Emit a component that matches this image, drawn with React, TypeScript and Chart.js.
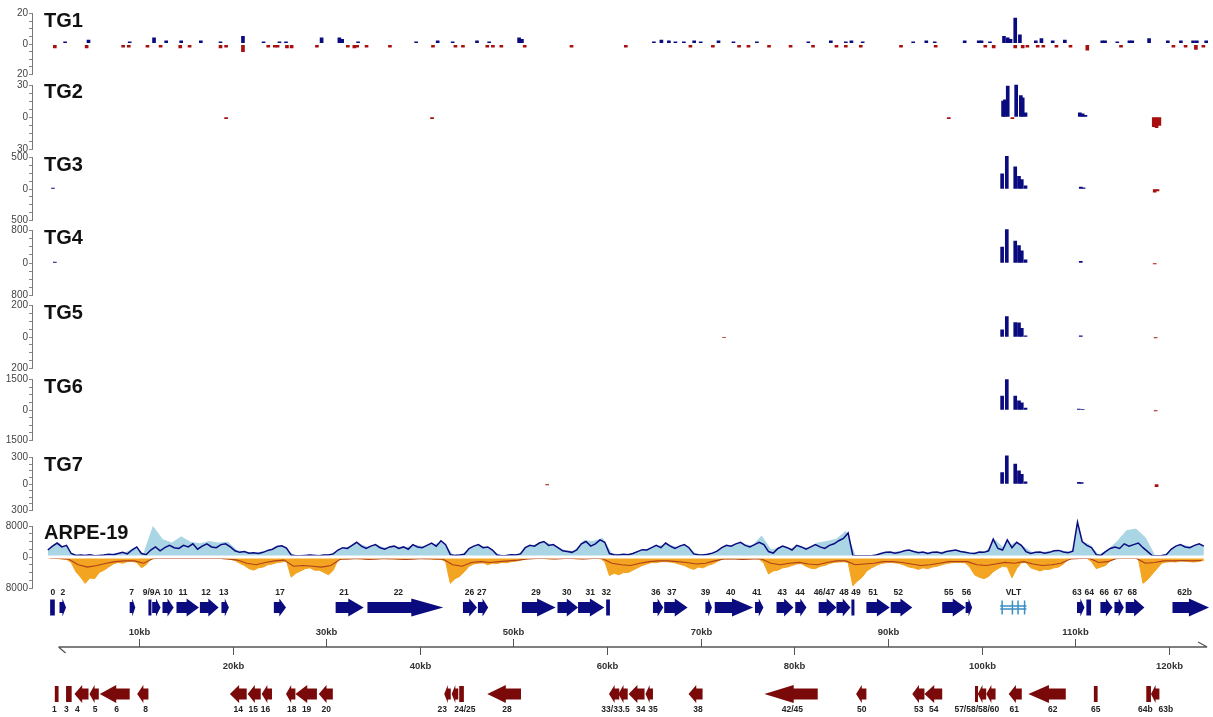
import React, { useEffect, useRef } from 'react';
import { Chart, registerables } from 'chart.js';

Chart.register(...registerables);

const FONT = '"Liberation Sans", Arial, Helvetica, sans-serif';

// ---------- tracks ----------
const trackNames = ['TG1', 'TG2', 'TG3', 'TG4', 'TG5', 'TG6', 'TG7', 'ARPE-19'];
const trackMax = [20, 30, 500, 800, 200, 1500, 300, 8000];

// [kb, value]
const tg1Plus: [number, number][] = [
  [2.1, 1.5], [4.6, 2.5], [9.0, 1.5], [11.6, 4], [12.9, 2], [14.5, 2], [16.6, 2], [18.7, 1.5], [21.1, 5],
  [23.3, 1.5], [25.0, 1.5], [25.7, 1.5], [29.5, 4], [31.4, 4], [31.7, 3], [33.4, 1.5], [39.6, 1.5], [41.9, 2],
  [43.5, 1.5], [46.1, 2], [47.4, 1.5], [50.6, 4], [50.9, 3], [65.0, 1.5], [65.8, 2.5], [66.6, 2], [67.3, 1.5],
  [68.2, 1.5], [69.3, 2], [70.0, 1.5], [71.9, 2], [73.5, 1.5], [76.0, 1.5], [81.5, 1.5], [83.9, 2], [85.5, 1.5],
  [86.1, 2], [87.3, 1.5], [92.7, 1.5], [94.1, 2], [95.0, 1.5], [98.2, 2], [99.7, 2], [100.0, 2], [100.9, 1.5],
  [102.4, 5], [102.8, 4], [103.1, 3], [103.6, 17], [104.1, 6], [105.8, 2], [106.4, 3.5], [107.6, 2], [108.9, 2.5],
  [112.9, 2], [113.2, 2], [114.5, 1.5], [115.8, 2], [116.1, 2], [117.9, 3.5], [119.9, 2], [121.3, 2], [122.6, 2],
  [123.0, 2], [124.0, 2],
];
const tg1Minus: [number, number][] = [
  [1.0, 2.5], [4.4, 2.5], [8.3, 2], [8.9, 2], [10.9, 2], [12.3, 2], [14.4, 2.5], [15.4, 2], [18.7, 2.5], [19.3, 2],
  [21.1, 5], [23.8, 2], [24.5, 2], [24.8, 2], [25.8, 2.5], [26.3, 2.5], [29.0, 2], [32.3, 2], [33.0, 2.5], [33.3, 2],
  [34.3, 2], [36.8, 2], [41.4, 2], [43.8, 2], [44.6, 2], [47.2, 2], [47.8, 2], [48.7, 2], [51.2, 2], [56.2, 2],
  [62.0, 2], [68.9, 2], [71.3, 2], [74.1, 2], [75.1, 2], [77.3, 2], [79.6, 2], [82.0, 2], [84.5, 2], [85.5, 2],
  [87.1, 2], [91.4, 2], [95.1, 2], [100.4, 2], [101.3, 2.5], [103.6, 2.5], [104.4, 2.5], [104.9, 2], [106.0, 2],
  [106.6, 2], [108.0, 2], [109.5, 2], [111.3, 4], [114.9, 2], [120.5, 2], [121.8, 2], [122.9, 3.5], [123.7, 2],
];
const tg2Plus: [number, number][] = [[102.3, 15], [102.5, 16], [102.8, 29], [103.7, 30], [104.2, 20], [104.4, 18], [104.7, 4], [110.5, 4], [110.8, 3], [111.1, 1.5]];
const tg2Minus: [number, number][] = [[19.3, 1.5], [41.3, 1.5], [96.5, 1.5], [103.3, 1.5], [118.4, 9], [118.7, 10], [119.0, 8]];
const tg3Plus: [number, number][] = [[0.8, 15], [102.2, 240], [102.7, 520], [103.6, 350], [104.0, 200], [104.3, 150], [104.7, 50], [110.6, 30], [110.9, 20]];
const tg3Minus: [number, number][] = [[118.5, 50], [118.8, 30]];
const tg4Plus: [number, number][] = [[1.0, 20], [102.2, 390], [102.7, 820], [103.6, 540], [104.0, 430], [104.3, 300], [104.7, 80], [110.6, 40]];
const tg4Minus: [number, number][] = [[118.5, 25]];
const tg5Plus: [number, number][] = [[102.2, 45], [102.7, 130], [103.6, 92], [104.0, 90], [104.3, 55], [104.7, 8], [110.6, 8]];
const tg5Minus: [number, number][] = [[72.5, 4], [118.6, 6]];
const tg6Plus: [number, number][] = [[102.2, 680], [102.7, 1500], [103.6, 690], [104.0, 450], [104.3, 350], [104.7, 90], [110.4, 40], [110.8, 35]];
const tg6Minus: [number, number][] = [[118.6, 50]];
const tg7Plus: [number, number][] = [[102.2, 130], [102.7, 320], [103.6, 225], [104.0, 150], [104.3, 110], [104.7, 25], [110.4, 20], [110.7, 15]];
const tg7Minus: [number, number][] = [[53.6, 10], [118.7, 30]];

// ARPE-19 plus strand, 0.5-kb bins (bin j centred on 0.5*j + 0.25 kb)
const arpeNavy = [
  1800, 2800, 3600, 2600, 3000, 900, 400, 500, 400, 600, 300, 400, 500, 700, 600, 900, 1200, 800, 1800, 2600,
  900, 600, 1800, 2600, 1600, 2400, 3000, 2400, 2200, 3000, 2600, 3400, 2000, 2800, 3400, 2600, 2400, 3200, 3400, 2600,
  1600, 1200, 1400, 1000, 1100, 900, 1200, 1700, 2000, 2700, 2900, 2300, 500, 300, 300, 400, 500, 400, 300, 500,
  500, 800, 1800, 2400, 2200, 3000, 3800, 2800, 2200, 2800, 3200, 2400, 2000, 2600, 2800, 2200, 2600, 2000, 3200, 2600,
  2400, 3000, 3600, 2800, 4200, 3200, 600, 400, 500, 700, 2200, 2800, 3200, 2400, 2600, 1800, 500, 300, 400, 600,
  500, 800, 2400, 3000, 2800, 3600, 4000, 3000, 3200, 2400, 1600, 1400, 1200, 1800, 3400, 4000, 2800, 3400, 4400, 3800,
  900, 600, 500, 700, 600, 900, 1400, 1900, 1800, 2400, 3000, 2400, 3600, 2800, 2200, 2800, 3200, 2400, 800, 600,
  500, 700, 1000, 1500, 2400, 3000, 2800, 3400, 3800, 3000, 2600, 3200, 3800, 3200, 1400, 1000, 2200, 2800, 2400, 1800,
  3000, 2600, 2000, 2600, 3200, 2600, 2200, 3000, 3400, 4200, 4800, 6200, 400, 300, 300, 300, 300, 500, 900, 1200,
  1300, 1000, 1200, 1600, 1800, 1400, 1100, 1300, 900, 1200, 1300, 1000, 1400, 1600, 1800, 1400, 1200, 1000, 900, 1300,
  1200, 1600, 4600, 2200, 1800, 4400, 2400, 3800, 3000, 1400, 900, 1200, 1300, 1000, 1200, 1600, 1700, 1300, 1100, 1500,
  9000, 4000, 3000, 2400, 600, 400, 1400, 2200, 2600, 2200, 3400, 2800, 3200, 3600, 2400, 1400, 300, 300, 400, 600,
  2000, 2800, 3200, 2600, 2400, 3000, 3400, 2800,
];
// light-blue envelope, 1-kb bins (bin i centred on i + 0.5 kb)
const arpeLight = [
  2200, 3400, 1200, 400, 500, 300, 600, 800, 1000, 2400, 800, 7800, 4500, 3600, 5200, 3800, 3400, 4000, 3600, 3800,
  1600, 1200, 1000, 1400, 2200, 2600, 400, 300, 500, 400, 600, 2000, 2600, 3400, 2400, 2800, 2200, 2600, 2400, 3000,
  2600, 3200, 3800, 500, 600, 2400, 2800, 2200, 400, 500, 600, 2600, 3200, 3600, 2800, 1600, 1400, 4200, 4000, 4800,
  800, 600, 700, 1600, 2000, 2800, 3200, 2400, 2800, 700, 600, 1200, 2600, 3000, 3400, 2800, 5400, 1800, 2400, 2000,
  2800, 2200, 3600, 4000, 4600, 6600, 400, 300, 400, 1000, 1200, 1400, 1600, 1200, 1000, 1200, 1400, 1600, 1200, 1000,
  1400, 4200, 2000, 3600, 2600, 1000, 1200, 1400, 1600, 1200, 4000, 3200, 500, 1800, 4000, 6800, 7200, 5000, 300, 400,
  2400, 3000, 2600, 3200,
];
// ARPE-19 minus strand, orange fill in 0.5-kb bins, dark-red line in 1-kb bins
const arpeOrange = [
  300, 300, 400, 500, 600, 1400, 3800, 5200, 6800, 5400, 5600, 4000, 3400, 2600, 1800, 1400, 1600, 1200, 1100, 1400,
  2800, 2000, 500, 400, 300, 400, 400, 300, 300, 400, 400, 300, 300, 400, 400, 300, 300, 400, 500, 600,
  900, 1600, 2200, 3000, 3400, 2800, 2600, 2000, 1800, 1400, 1300, 1000, 5200, 4200, 3600, 3000, 2800, 3400, 3400, 4000,
  4600, 3400, 700, 500, 500, 400, 400, 500, 600, 500, 500, 400, 400, 500, 500, 600, 600, 500, 500, 400,
  400, 500, 500, 600, 600, 1200, 6800, 5600, 5000, 3800, 2400, 1800, 1600, 1500, 2000, 1600, 1700, 1400, 1500, 1200,
  1100, 800, 500, 400, 400, 400, 400, 500, 500, 400, 400, 400, 400, 500, 500, 400, 400, 400, 400, 1200,
  4800, 4200, 4600, 4000, 4000, 3400, 2800, 2200, 1800, 1400, 1500, 1200, 1200, 1300, 1500, 1900, 2200, 2800, 3200, 2600,
  2800, 2200, 1800, 1200, 500, 500, 500, 400, 600, 500, 500, 400, 500, 1600, 4400, 3600, 3400, 2800, 2600, 2200,
  1800, 1700, 2400, 2900, 3000, 2400, 2200, 1700, 1400, 1300, 1200, 1400, 7400, 6200, 5200, 3600, 2800, 2200, 1700, 1500,
  1400, 1500, 1700, 2100, 2600, 2800, 3200, 2800, 3000, 2600, 2400, 2000, 1700, 1500, 1400, 1400, 1500, 2600, 4600, 5200,
  5600, 5000, 3800, 3000, 2400, 2600, 5400, 3000, 1500, 1400, 2800, 3200, 3600, 3200, 3200, 2800, 2600, 1800, 600, 400,
  400, 400, 300, 1200, 3000, 2600, 2200, 1000, 300, 300, 300, 300, 300, 400, 6800, 5800, 4400, 3000, 1600, 1300,
  1200, 1300, 1000, 1100, 1200, 1300, 1100, 900,
];
const arpeRed = [
  300, 400, 600, 2000, 2600, 2200, 1600, 1200, 1000, 1000, 1600, 400, 300, 400, 300, 400, 300, 400, 300, 500,
  800, 1600, 2000, 1400, 1000, 800, 2400, 2200, 2400, 2600, 2200, 600, 500, 400, 600, 500, 400, 500, 600, 500,
  400, 500, 600, 2000, 2400, 1400, 1200, 1400, 1200, 1000, 800, 500, 400, 400, 500, 400, 400, 500, 400, 400,
  1600, 2000, 2200, 1600, 1200, 1000, 1000, 1200, 1400, 1800, 1600, 1000, 500, 500, 600, 500, 500, 1600, 2000, 1600,
  1400, 1800, 2000, 1400, 1000, 1000, 2000, 1800, 1600, 1200, 1200, 1400, 1800, 2200, 2000, 1600, 1200, 1200, 1200, 2000,
  2200, 1800, 1400, 1600, 1200, 1800, 2200, 2000, 1600, 500, 400, 300, 1400, 1200, 300, 300, 300, 1600, 1400, 1000,
  1000, 900, 1000, 900,
];

// ---------- genome annotation ----------
const kbTicks = [10, 20, 30, 40, 50, 60, 70, 80, 90, 100, 110, 120];
const genomeSpan: [number, number] = [1.4, 124.1];

// [start kb, end kb, shape] ; 'a' = arrow, 'r' = box
const fwdGenes: [number, number, string][] = [
  [0.5, 1.0, 'r'], [1.5, 2.2, 'a'], [9.0, 9.6, 'a'], [11.0, 11.3, 'r'], [11.4, 12.3, 'a'], [12.5, 13.7, 'a'],
  [14.0, 16.4, 'a'], [16.5, 18.5, 'a'], [18.8, 19.6, 'a'], [24.4, 25.7, 'a'], [31.0, 34.0, 'a'], [34.4, 42.5, 'a'],
  [44.6, 46.1, 'a'], [46.2, 47.3, 'a'], [50.9, 54.5, 'a'], [54.7, 56.9, 'a'], [56.9, 59.7, 'a'], [59.9, 60.3, 'r'],
  [64.9, 66.0, 'a'], [66.1, 68.6, 'a'], [70.5, 71.2, 'a'], [71.5, 75.6, 'a'], [75.8, 76.7, 'a'], [78.1, 79.9, 'a'],
  [80.1, 81.3, 'a'], [82.6, 84.5, 'a'], [84.5, 86.0, 'a'], [86.1, 86.4, 'r'], [87.7, 90.2, 'a'], [90.3, 92.6, 'a'],
  [95.8, 98.3, 'a'], [98.3, 99.0, 'a'], [110.2, 111.0, 'a'], [111.2, 111.7, 'r'], [112.7, 114.0, 'a'],
  [114.2, 115.2, 'a'], [115.4, 117.4, 'a'], [120.4, 124.3, 'a'],
];
const fwdLabels: [string, number][] = [
  ['0', 0.8], ['2', 1.85], ['7', 9.2], ['9/9A', 11.35], ['10', 13.1], ['11', 14.7], ['12', 17.15], ['13', 19.05],
  ['17', 25.05], ['21', 31.9], ['22', 37.7], ['26', 45.3], ['27', 46.6], ['29', 52.4], ['30', 55.7], ['31', 58.2],
  ['32', 59.9], ['36', 65.2], ['37', 66.9], ['39', 70.5], ['40', 73.2], ['41', 76.0], ['43', 78.7], ['44', 80.6],
  ['46/47', 83.2], ['48', 85.3], ['49', 86.6], ['51', 88.4], ['52', 91.1], ['55', 96.5], ['56', 98.4],
  ['VLT', 103.4], ['63', 110.2], ['64', 111.5], ['66', 113.1], ['67', 114.6], ['68', 116.1], ['62b', 121.7],
];
const vltSpan: [number, number] = [102.0, 104.8];
const vltMarks = [102.2, 103.3, 103.9, 104.6];

const revGenes: [number, number, string][] = [
  [1.0, 1.4, 'r'], [2.2, 2.8, 'r'], [3.1, 4.6, 'a'], [4.7, 5.7, 'a'], [5.8, 9.0, 'a'], [9.8, 11.0, 'a'],
  [19.7, 21.5, 'a'], [21.6, 23.0, 'a'], [23.1, 24.2, 'a'], [25.7, 26.7, 'a'], [26.7, 29.0, 'a'], [29.2, 30.7, 'a'],
  [42.6, 43.3, 'a'], [43.4, 44.1, 'a'], [44.2, 44.7, 'r'], [47.2, 50.8, 'a'], [60.2, 61.3, 'a'], [61.2, 62.2, 'a'],
  [62.3, 64.0, 'a'], [64.1, 64.9, 'a'], [68.7, 70.2, 'a'], [76.8, 82.5, 'a'], [86.6, 87.7, 'a'], [92.6, 93.9, 'a'],
  [93.9, 95.8, 'a'], [99.3, 99.6, 'r'], [99.6, 100.5, 'a'], [100.5, 101.5, 'a'], [102.9, 104.3, 'a'],
  [105.0, 109.0, 'a'], [112.0, 112.4, 'r'], [117.6, 118.1, 'r'], [118.1, 119.0, 'a'],
];
const revLabels: [string, number][] = [
  ['1', 0.96], ['3', 2.24], ['4', 3.4], ['5', 5.3], ['6', 7.6], ['8', 10.7], ['14', 20.6], ['15', 22.2], ['16', 23.5],
  ['18', 26.3], ['19', 27.9], ['20', 30.0], ['23', 42.4], ['24/25', 44.8], ['28', 49.3], ['33/33.5', 60.9],
  ['34', 63.6], ['35', 64.9], ['38', 69.7], ['42/45', 79.8], ['50', 87.2], ['53', 93.3], ['54', 94.9],
  ['57/58/58/60', 99.5], ['61', 103.5], ['62', 107.6], ['65', 112.2], ['64b', 117.5], ['63b', 119.7],
];

// ---------- layout / style constants ----------
const SLOT = 73;
const AREA_TOP = 7.5;
const AREA_BOTTOM_PAD = 125.5;
const zeroUp = [36.5, 36.5, 35.5, 36.5, 37.5, 37.5, 38.5, 38.5];
const tickPx = [30.5, 32, 31.5, 32.5, 31.5, 30.5, 26.5, 31];

const NAVY = '#0b0b80';
const RED = '#a80f0f';
const GENE_RED = '#7a0a0a';
const LIGHT = '#a9d5e4';
const ORANGE = '#f3a421';
const DARKRED = '#b0401a';
const VLT_BLUE = '#3b8ec6';

const plusSets = [tg1Plus, tg2Plus, tg3Plus, tg4Plus, tg5Plus, tg6Plus, tg7Plus];
const minusSets = [tg1Minus, tg2Minus, tg3Minus, tg4Minus, tg5Minus, tg6Minus, tg7Minus];

function drawGene(ctx: CanvasRenderingContext2D, x1: number, x2: number, cy: number, dir: number, shape: string) {
  const w = x2 - x1;
  if (shape === 'r') {
    ctx.fillRect(x1, cy - 8, Math.max(w, 3), 16);
    return;
  }
  const hl = Math.min(w * 0.55, 32);
  const bh = 5.5;
  const hh = 9;
  ctx.beginPath();
  if (dir > 0) {
    ctx.moveTo(x1, cy - bh);
    ctx.lineTo(x2 - hl, cy - bh);
    ctx.lineTo(x2 - hl, cy - hh);
    ctx.lineTo(x2, cy);
    ctx.lineTo(x2 - hl, cy + hh);
    ctx.lineTo(x2 - hl, cy + bh);
    ctx.lineTo(x1, cy + bh);
  } else {
    ctx.moveTo(x2, cy - bh);
    ctx.lineTo(x1 + hl, cy - bh);
    ctx.lineTo(x1 + hl, cy - hh);
    ctx.lineTo(x1, cy);
    ctx.lineTo(x1 + hl, cy + hh);
    ctx.lineTo(x1 + hl, cy + bh);
    ctx.lineTo(x2, cy + bh);
  }
  ctx.closePath();
  ctx.fill();
}

const decorPlugin = {
  id: 'decor',
  afterDatasetsDraw(chart: any) {
    const ctx: CanvasRenderingContext2D = chart.ctx;
    const ca = chart.chartArea;
    const xs = chart.scales.x;
    const px = (v: number) => xs.getPixelForValue(v);
    ctx.save();

    // white zero separators
    [0, 7].forEach((i) => {
      const s = chart.scales['y' + i];
      const y0 = s.getPixelForValue(0);
      ctx.fillStyle = '#ffffff';
      const h = i === 7 ? 3 : 2;
      ctx.fillRect(ca.left + 1, y0 - h / 2, ca.right - ca.left, h);
    });

    // axis lines and track names
    trackNames.forEach((name, i) => {
      const s = chart.scales['y' + i];
      const m = trackMax[i];
      const yTop = s.getPixelForValue(m);
      const yBot = s.getPixelForValue(-m);
      ctx.strokeStyle = '#777';
      ctx.lineWidth = 1;
      ctx.beginPath();
      ctx.moveTo(Math.round(s.right) - 0.5, yTop);
      ctx.lineTo(Math.round(s.right) - 0.5, yBot);
      ctx.stroke();
      ctx.fillStyle = '#111';
      ctx.font = `bold 20px ${FONT}`;
      ctx.textAlign = 'left';
      ctx.textBaseline = 'alphabetic';
      ctx.fillText(name, ca.left + 11, yTop + 13);
    });

    // genome annotation
    const yTopLabel = ca.bottom + 1;
    const yTopArrow = ca.bottom + 16;
    const yUpLabel = ca.bottom + 41;
    const yAxis = ca.bottom + 55.5;
    const yDnLabel = ca.bottom + 74.5;
    const yBotArrow = ca.bottom + 102.5;
    const yBotLabel = ca.bottom + 118.5;

    ctx.fillStyle = NAVY;
    fwdGenes.forEach(([a, b, sh]) => drawGene(ctx, px(a), px(b), yTopArrow, 1, sh));
    ctx.fillStyle = GENE_RED;
    revGenes.forEach(([a, b, sh]) => drawGene(ctx, px(a), px(b), yBotArrow, -1, sh));

    // VLT
    ctx.strokeStyle = VLT_BLUE;
    ctx.lineWidth = 1.5;
    ctx.beginPath();
    ctx.moveTo(px(vltSpan[0]), yTopArrow - 1.5);
    ctx.lineTo(px(vltSpan[1]), yTopArrow - 1.5);
    ctx.moveTo(px(vltSpan[0]), yTopArrow + 1.5);
    ctx.lineTo(px(vltSpan[1]), yTopArrow + 1.5);
    vltMarks.forEach((m) => {
      ctx.moveTo(px(m), yTopArrow - 7);
      ctx.lineTo(px(m), yTopArrow + 7);
    });
    ctx.stroke();

    // gene labels
    ctx.font = `bold 8.5px ${FONT}`;
    ctx.textAlign = 'center';
    ctx.textBaseline = 'middle';
    ctx.fillStyle = '#222';
    fwdLabels.forEach(([t, k]) => ctx.fillText(t, px(k), yTopLabel));
    revLabels.forEach(([t, k]) => ctx.fillText(t, px(k), yBotLabel));

    // genome axis
    ctx.strokeStyle = '#555';
    ctx.lineWidth = 1.3;
    const xa = px(genomeSpan[0]);
    const xb = px(genomeSpan[1]);
    ctx.beginPath();
    ctx.moveTo(xa, yAxis);
    ctx.lineTo(xb, yAxis);
    ctx.moveTo(xa, yAxis);
    ctx.lineTo(xa + 7, yAxis + 6);
    ctx.moveTo(xb, yAxis);
    ctx.lineTo(xb - 9, yAxis - 5);
    ctx.stroke();
    ctx.lineWidth = 1;
    ctx.font = `bold 9.5px ${FONT}`;
    ctx.fillStyle = '#333';
    kbTicks.forEach((t) => {
      const x = Math.round(px(t)) + 0.5;
      const up = (t / 10) % 2 === 1;
      ctx.beginPath();
      if (up) {
        ctx.moveTo(x, yAxis - 8);
        ctx.lineTo(x, yAxis);
      } else {
        ctx.moveTo(x, yAxis);
        ctx.lineTo(x, yAxis + 8);
      }
      ctx.stroke();
      ctx.fillText(`${t}kb`, x, up ? yUpLabel : yDnLabel);
    });

    ctx.restore();
  },
};

export default function App() {
  const ref = useRef<HTMLCanvasElement | null>(null);

  useEffect(() => {
    if (!ref.current) return;
    const datasets: any[] = [];
    for (let i = 0; i < 7; i++) {
      datasets.push({
        type: 'bar',
        yAxisID: 'y' + i,
        data: plusSets[i].map(([x, v]) => ({ x, y: v })),
        backgroundColor: NAVY,
        borderWidth: 0,
        barThickness: 3,
        grouped: false,
      });
      datasets.push({
        type: 'bar',
        yAxisID: 'y' + i,
        data: minusSets[i].map(([x, v]) => ({ x, y: -v })),
        backgroundColor: RED,
        borderWidth: 0,
        barThickness: 3,
        grouped: false,
      });
    }
    const bins = (arr: number[], w: number, sign: number) =>
      arr.map((v, i) => ({ x: i * w + w / 2, y: sign * v }));
    datasets.push({
      type: 'line', yAxisID: 'y7', data: bins(arpeNavy, 0.5, 1), borderColor: NAVY, borderWidth: 1.5,
      backgroundColor: LIGHT, fill: 'origin', pointRadius: 0, tension: 0, order: 1,
    });
    datasets.push({
      type: 'line', yAxisID: 'y7', data: bins(arpeLight, 1, 1), borderColor: LIGHT, backgroundColor: LIGHT,
      borderWidth: 1, fill: 'origin', pointRadius: 0, tension: 0, order: 3,
    });
    datasets.push({
      type: 'line', yAxisID: 'y7', data: bins(arpeRed, 1, -1), borderColor: DARKRED, borderWidth: 1.1,
      fill: false, pointRadius: 0, tension: 0, order: 1,
    });
    datasets.push({
      type: 'line', yAxisID: 'y7', data: bins(arpeOrange, 0.5, -1), borderColor: ORANGE, backgroundColor: ORANGE,
      borderWidth: 1, fill: 'origin', pointRadius: 0, tension: 0, order: 2,
    });

    const scales: any = {
      x: { type: 'linear', min: -1.33, max: 124.3, display: false, offset: false },
    };
    trackNames.forEach((_, i) => {
      const m = trackMax[i];
      const h = tickPx[i];
      scales['y' + i] = {
        type: 'linear',
        position: 'left',
        stack: 'tracks',
        stackWeight: 1,
        weight: 20 - i,
        offset: false,
        min: (-m * (SLOT - zeroUp[i])) / h,
        max: (m * zeroUp[i]) / h,
        afterBuildTicks: (s: any) => {
          const t = [];
          for (let k = -4; k <= 4; k++) t.push({ value: (k * m) / 4 });
          s.ticks = t;
        },
        afterFit: (s: any) => {
          s.width = 33;
        },
        ticks: {
          autoSkip: false,
          padding: 1,
          color: '#444',
          font: { family: FONT, size: 10 },
          callback: (v: number) => (v === 0 || Math.abs(v) === m ? String(Math.abs(v)) : ''),
        },
        grid: { drawOnChartArea: false, drawTicks: true, tickLength: 4, color: '#888' },
        border: { display: false },
      };
    });

    const chart = new Chart(ref.current, {
      type: 'line',
      data: { datasets },
      options: {
        animation: false,
        responsive: false,
        devicePixelRatio: 1,
        events: [],
        layout: { padding: { top: AREA_TOP, bottom: AREA_BOTTOM_PAD, left: 0, right: 4 } },
        plugins: { legend: { display: false }, tooltip: { enabled: false }, title: { display: false } },
        scales,
      },
      plugins: [decorPlugin],
    } as any);
    return () => chart.destroy();
  }, []);

  return (
    <div style={{ position: 'absolute', left: 0, top: 0, width: 1213, height: 717, background: '#fff' }}>
      <canvas ref={ref} width={1213} height={717} style={{ display: 'block' }} />
    </div>
  );
}
